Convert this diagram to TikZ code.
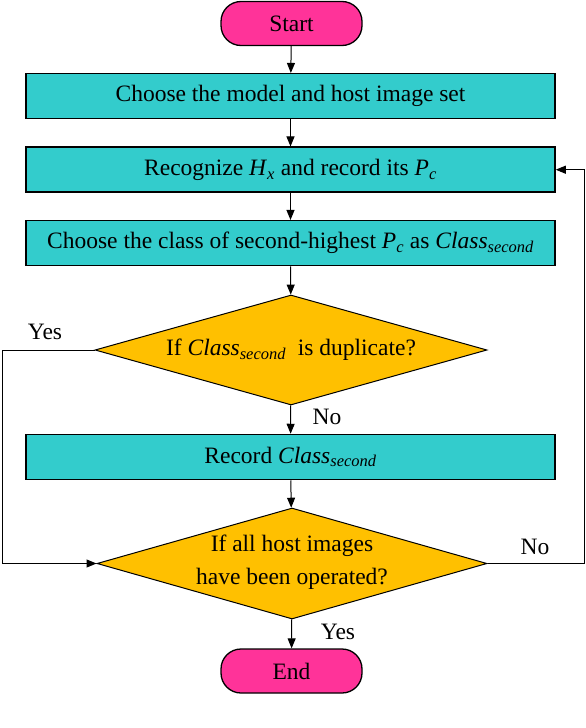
\documentclass[tikz,border=0pt]{standalone}
\usepackage{fontspec}
\setmainfont{Liberation Serif}
\usetikzlibrary{shapes.geometric,arrows.meta}
\definecolor{boxcyan}{RGB}{51,204,204}
\definecolor{pillpink}{RGB}{255,51,153}
\definecolor{decorange}{RGB}{255,192,0}
\tikzset{
  every node/.style={font=\fontsize{23.5}{33}\selectfont},
  pill/.style={draw, line width=1.3pt, fill=pillpink, rounded corners=20pt, minimum width=141pt, minimum height=44pt, inner sep=0pt},
  procbox/.style={draw, line width=1.5pt, fill=boxcyan, minimum width=529pt, minimum height=45pt, inner sep=0pt},
  decision/.style={draw, line width=1pt, fill=decorange, diamond, aspect=3.5, inner sep=0pt},
  conn/.style={line width=1pt, -{Triangle[length=10pt,width=8pt]}},
  lbl/.style={inner sep=0pt}
}
\begin{document}
\begin{tikzpicture}[x=1pt,y=1pt]
\useasboundingbox (0,0) rectangle (586,-728);
\node[pill] (start) at (291.5,-23.5) {Start};
\node[procbox] (b1) at (290.5,-96.2) {Choose the model and host image set};
\node[procbox] (b2) at (290.5,-169.7) {Recognize \textit{H}\textsubscript{\textit{x}} and record its \textit{P}\textsubscript{\textit{c}}};
\node[procbox] (b3) at (290.5,-243.2) {Choose the class of second-highest \textit{P}\textsubscript{\textit{c}} as \textit{Class}\textsubscript{\textit{second}}};
\node[decision, minimum width=392pt, minimum height=110pt] (d1) at (291,-350) {};
\node[lbl] (d1t) at (d1.center) {If \textit{Class}\textsubscript{\textit{second}}\ \ is duplicate?};
\node[procbox] (b4) at (290.5,-457) {Record \textit{Class}\textsubscript{\textit{second}}};
\node[decision, minimum width=390pt, minimum height=111pt] (d2) at (292,-563.5) {};
\node[lbl, align=center] (d2t) at ([yshift=1pt]d2.center) {If all host images\\have been operated?};
\node[pill] (end) at (291.5,-671) {End};
\coordinate (lt) at (2,-350);
\coordinate (lb) at (2,-563.5);
\coordinate (rb) at (584,-563.5);
\coordinate (rt) at (584,-169.7);
\draw[conn] (start) -- (b1);
\draw[conn] (b1) -- (b2);
\draw[conn] (b2) -- (b3);
\draw[conn] (b3) -- (d1);
\draw[conn] (d1) -- (b4);
\draw[conn] (b4) -- (d2);
\draw[conn] (d2) -- (end);
\draw[conn] (d1.west) -- (lt) -- (lb) -- (d2.west);
\draw[conn] (d2.east) -- (rb) -- (rt) -- (b2.east);
\node[lbl] (yes1) at (45,-332) {Yes};
\node[lbl] (no1) at (327,-417) {No};
\node[lbl] (no2) at (535,-547) {No};
\node[lbl] (yes2) at (338,-632) {Yes};
\end{tikzpicture}
\end{document}
